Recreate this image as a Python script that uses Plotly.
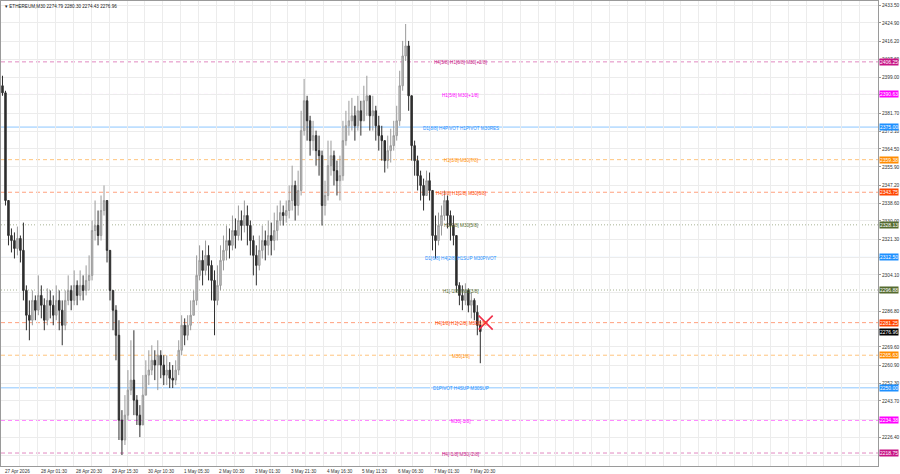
import plotly.graph_objects as go

# ---------------- data (ETHEREUM M30, aggregated candles) -------------
first_open = 2394.8
closes = [2391.4, 2339.8, 2323.0, 2320.6, 2316.8, 2321.6, 2315.9, 2296.7, 2284.8, 2282.4,
          2291.9, 2287.2, 2294.3, 2289.6, 2282.4, 2291.9, 2289.6, 2284.8, 2291.9, 2287.2,
          2280.0, 2291.9, 2296.7, 2291.9, 2299.1, 2294.3, 2299.1, 2296.7, 2301.5, 2303.9,
          2325.4, 2327.8, 2323.0, 2335.0, 2339.8, 2315.9, 2296.7, 2287.2, 2275.2, 2234.5,
          2225.0, 2236.9, 2248.9, 2253.7, 2244.1, 2236.9, 2232.2, 2246.5, 2256.1, 2258.5,
          2263.2, 2260.9, 2265.6, 2260.9, 2256.1, 2258.5, 2254.6, 2253.7, 2258.5, 2268.0,
          2280.0, 2275.2, 2280.0, 2284.8, 2291.9, 2303.9, 2311.1, 2306.3, 2313.5, 2308.7,
          2301.5, 2291.9, 2299.1, 2311.1, 2315.9, 2320.6, 2318.3, 2325.4, 2323.0, 2330.2,
          2327.8, 2332.6, 2327.8, 2320.6, 2313.5, 2308.7, 2315.9, 2320.6, 2318.3, 2323.0,
          2320.6, 2325.4, 2330.2, 2334.0, 2332.6, 2335.0, 2339.8, 2347.0, 2337.4, 2344.6,
          2373.3, 2387.6, 2378.0, 2368.5, 2370.9, 2363.7, 2361.3, 2337.4, 2342.2, 2356.5,
          2361.3, 2354.1, 2349.3, 2351.7, 2368.5, 2375.6, 2378.0, 2380.4, 2375.6, 2382.8,
          2378.0, 2387.6, 2390.0, 2380.4, 2382.8, 2375.6, 2370.9, 2368.5, 2358.9, 2363.7,
          2366.1, 2370.9, 2378.0, 2394.8, 2409.1, 2413.9, 2390.0, 2366.1, 2358.9, 2351.7,
          2347.0, 2342.2, 2349.3, 2344.6, 2323.0, 2320.6, 2327.8, 2332.6, 2339.8, 2332.6,
          2327.8, 2323.0, 2299.1, 2294.3, 2291.9, 2296.7, 2289.6, 2291.9, 2286.2, 2280.0,
          2276.96]
highs = [2399.6, 2392.4, 2339.8, 2326.4, 2324.5, 2327.3, 2323.0, 2329.2, 2299.1, 2291.9,
         2296.7, 2294.3, 2303.9, 2299.1, 2292.9, 2297.7, 2296.7, 2294.3, 2299.1, 2296.7,
         2291.9, 2296.7, 2303.9, 2299.1, 2306.3, 2301.5, 2306.3, 2303.9, 2308.7, 2313.5,
         2330.2, 2339.8, 2335.0, 2342.2, 2347.0, 2339.8, 2315.9, 2296.7, 2289.6, 2282.4,
         2239.3, 2246.5, 2258.5, 2272.8, 2277.6, 2246.5, 2241.7, 2256.1, 2263.2, 2268.0,
         2270.4, 2268.0, 2272.8, 2268.0, 2265.6, 2265.6, 2262.3, 2260.9, 2263.2, 2272.8,
         2284.8, 2283.3, 2284.8, 2291.9, 2296.7, 2313.5, 2318.3, 2315.9, 2320.6, 2318.3,
         2311.1, 2306.3, 2308.7, 2318.3, 2323.0, 2327.8, 2326.4, 2332.6, 2331.2, 2337.4,
         2335.0, 2339.8, 2337.4, 2330.2, 2323.0, 2318.3, 2323.0, 2327.8, 2325.4, 2330.2,
         2329.2, 2334.0, 2337.4, 2339.8, 2337.4, 2339.8, 2347.0, 2356.5, 2349.3, 2354.1,
         2382.8, 2398.1, 2390.0, 2380.4, 2378.0, 2373.3, 2370.9, 2363.7, 2349.3, 2368.5,
         2368.5, 2363.7, 2358.9, 2361.3, 2378.0, 2382.8, 2387.6, 2389.0, 2385.2, 2390.0,
         2387.6, 2394.8, 2399.6, 2390.0, 2390.0, 2385.2, 2380.4, 2375.6, 2368.5, 2370.9,
         2374.2, 2378.0, 2385.2, 2402.0, 2416.3, 2424.4, 2416.3, 2387.6, 2368.5, 2361.3,
         2354.1, 2350.3, 2354.1, 2353.2, 2339.8, 2332.6, 2334.0, 2337.4, 2344.6, 2342.2,
         2335.0, 2332.6, 2323.0, 2300.6, 2299.1, 2300.1, 2297.7, 2295.8, 2292.9, 2289.6,
         2282.4]
lows = [2390.0, 2337.4, 2318.3, 2314.9, 2312.0, 2313.5, 2310.1, 2291.9, 2277.6, 2272.8,
        2280.0, 2282.4, 2284.8, 2283.3, 2277.6, 2280.0, 2283.3, 2280.0, 2282.4, 2277.6,
        2270.4, 2277.6, 2289.6, 2287.2, 2289.6, 2289.6, 2291.9, 2291.9, 2294.3, 2296.7,
        2301.5, 2320.6, 2318.3, 2320.6, 2332.6, 2310.1, 2291.9, 2277.6, 2263.2, 2225.0,
        2217.8, 2222.6, 2234.5, 2246.5, 2236.9, 2232.2, 2226.4, 2234.5, 2246.5, 2251.3,
        2256.1, 2253.7, 2248.9, 2254.6, 2251.3, 2251.3, 2249.9, 2249.9, 2251.3, 2256.1,
        2265.6, 2270.4, 2272.8, 2277.6, 2284.8, 2289.6, 2301.5, 2299.1, 2303.9, 2301.5,
        2291.9, 2275.2, 2289.6, 2296.7, 2306.3, 2311.1, 2312.0, 2315.9, 2316.8, 2320.6,
        2320.6, 2324.5, 2318.3, 2313.5, 2303.9, 2299.1, 2306.3, 2312.0, 2311.1, 2313.5,
        2313.5, 2315.9, 2320.6, 2327.8, 2327.8, 2329.2, 2331.2, 2335.0, 2330.2, 2332.6,
        2342.2, 2370.9, 2368.5, 2361.3, 2363.7, 2356.5, 2351.7, 2327.8, 2332.6, 2339.8,
        2351.7, 2347.0, 2342.2, 2339.8, 2349.3, 2366.1, 2370.9, 2373.3, 2368.5, 2373.3,
        2370.9, 2378.0, 2380.4, 2373.3, 2373.3, 2368.5, 2363.7, 2358.9, 2353.2, 2355.1,
        2358.0, 2363.7, 2368.5, 2375.6, 2392.4, 2406.7, 2382.8, 2358.9, 2351.7, 2344.6,
        2339.8, 2335.0, 2342.2, 2339.8, 2315.9, 2312.0, 2318.3, 2323.0, 2330.2, 2326.4,
        2320.6, 2318.3, 2295.8, 2289.6, 2287.2, 2289.6, 2286.2, 2283.3, 2282.4, 2275.2,
        2261.8]
opens = [first_open] + closes[:-1]
bar_index = list(range(len(closes)))

# Murrey-math levels drawn on the chart
level_prices = [2406.25, 2390.63, 2375.00, 2359.38, 2343.75, 2328.13, 2312.50,
                2296.88, 2281.25, 2265.63, 2250.00, 2234.38, 2218.75]
level_labels = ["H4[5/8] H1[6/8] M30[+2/8]", "H1[5/8] M30[+1/8]",
                "D1[8/8] H4PIVOT H1PIVOT M30RES", "H1[3/8] M30[7/8]",
                "H4[3/8] H1[2/8] M30[6/8]", "H1[1/8] M30[5/8]",
                "D1[6/8] H4[2/8] H1SUP M30PIVOT", "H1[-1/8] M30[3/8]",
                "H4[1/8] H1[-2/8] M30[2/8]", "M30[1/8]",
                "D1PIVOT H4SUP M30SUP", "M30[-1/8]", "H4[-1/8] M30[-2/8]"]
level_colors = ["#C71585", "#FF00FF", "#1E90FF", "#FF8C00", "#FF4500", "#556B2F", "#1E90FF",
                "#556B2F", "#FF4500", "#FF8C00", "#1E90FF", "#FF00FF", "#C71585"]
level_dash = ["4px,3px", "4px,3px", "solid", "4px,3px", "4px,3px", "1px,2px", "solid",
              "1px,2px", "4px,3px", "4px,3px", "solid", "4px,3px", "4px,3px"]

last_price = 2276.96
marker_price = 2281.25
title_text = "ETHEREUM,M30 2274.79 2280.30 2274.43 2276.96"

y_ticks = [2433.50, 2424.90, 2416.20, 2407.60, 2399.00, 2390.40, 2381.70, 2373.10, 2364.50,
           2355.90, 2347.20, 2338.60, 2330.00, 2321.30, 2312.70, 2304.10, 2295.50, 2286.80,
           2278.20, 2269.60, 2260.90, 2252.30, 2243.70, 2235.00, 2226.40, 2217.80]
# tick labels hidden behind the price boxes in the picture
hidden_ticks = [2390.40, 2312.70, 2295.50, 2278.20, 2235.00, 2217.80]
time_labels = ["27 Apr 2026", "28 Apr 01:30", "28 Apr 20:30", "29 Apr 15:30", "30 Apr 10:30",
               "1 May 05:30", "2 May 00:30", "3 May 01:30", "3 May 21:30", "4 May 16:30",
               "5 May 11:30", "6 May 06:30", "7 May 01:30", "7 May 20:30"]

# ---------------- layout constants ----------------
FONT = "Liberation Sans, Arial, sans-serif"
grid_step = 5.983          # bars between vertical grid lines
grid_offset = -0.17
x_range = [-0.5, 293.17]
y_range = [2212.53, 2435.43]

fig = go.Figure()

fig.add_trace(go.Candlestick(
    x=bar_index, open=opens, high=highs, low=lows, close=closes,
    increasing=dict(line=dict(color="#9a9a9a", width=1), fillcolor="#c4c4c4"),
    decreasing=dict(line=dict(color="#2e2e2e", width=1), fillcolor="#2e2e2e"),
    whiskerwidth=0, showlegend=False, hoverinfo="skip"))

shapes = []
annotations = []
for p, lab, c, d in zip(level_prices, level_labels, level_colors, level_dash):
    shapes.append(dict(type="line", xref="paper", x0=0, x1=1, yref="y", y0=p, y1=p,
                       line=dict(color=c, width=1, dash=d), opacity=0.5, layer="below"))
    annotations.append(dict(x=153.5, y=p, xref="x", yref="y", text=lab, showarrow=False,
                            font=dict(family=FONT, size=4.6, color=c), yshift=-1))
    annotations.append(dict(x=1, y=p, xref="paper", yref="y", text=f"{p:.2f}", showarrow=False,
                            xanchor="left", xshift=1, bgcolor=c, borderpad=0,
                            font=dict(family=FONT, size=5, color="white")))

annotations.append(dict(x=1, y=last_price, xref="paper", yref="y", text=f"{last_price:.2f}",
                        showarrow=False, xanchor="left", xshift=1, bgcolor="#000000",
                        borderpad=0, font=dict(family=FONT, size=5, color="white")))

annotations.append(dict(x=0, y=1, xref="paper", yref="paper", text="\u25be " + title_text,
                        showarrow=False, xanchor="left", yanchor="top", xshift=2, yshift=-1,
                        font=dict(family=FONT, size=4.6, color="#222")))

grid_x = [grid_offset + grid_step * k for k in range(0, 50)]
for m, t in enumerate(time_labels):
    annotations.append(dict(x=grid_x[2 * m], y=0, xref="x", yref="paper", text=t,
                            showarrow=False, xanchor="left", yanchor="top", xshift=1, yshift=-1,
                            font=dict(family=FONT, size=4.6, color="#333")))

fig.add_trace(go.Scatter(x=[len(closes) + 0.8], y=[marker_price], mode="markers",
                         marker=dict(symbol="x-thin", size=14,
                                     line=dict(color="#f0304a", width=1.6)),
                         showlegend=False, hoverinfo="skip"))

fig.update_layout(
    width=900, height=474, margin=dict(l=0, r=19, t=0, b=8),
    paper_bgcolor="white", plot_bgcolor="white",
    shapes=shapes, annotations=annotations, showlegend=False,
    xaxis=dict(range=x_range, tickvals=grid_x, showticklabels=False, showgrid=True,
               gridcolor="#ececec", gridwidth=1, zeroline=False, rangeslider=dict(visible=False),
               showline=True, linecolor="#9a9a9a", mirror=True, ticks=""),
    yaxis=dict(range=y_range, side="right", tickvals=y_ticks,
               ticktext=["" if v in hidden_ticks else f"{v:.2f}" for v in y_ticks],
               showgrid=True, gridcolor="#ececec",
               zeroline=False, showline=True, linecolor="#9a9a9a", mirror=True,
               ticks="outside", ticklen=2, tickcolor="#9a9a9a",
               tickfont=dict(family=FONT, size=4.8, color="#333")),
)

fig.write_html("out.html")
